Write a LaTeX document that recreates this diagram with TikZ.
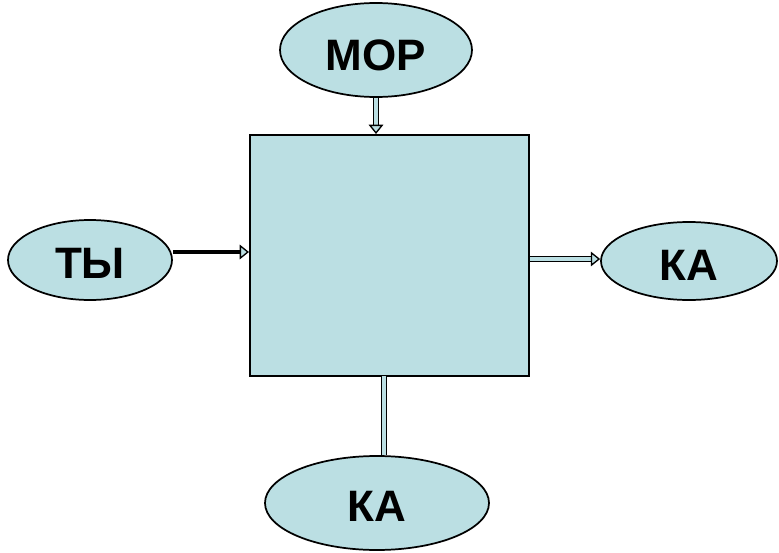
\documentclass[tikz,border=0pt]{standalone}
\usepackage{fontspec}
\setmainfont{Liberation Sans}
\usetikzlibrary{arrows.meta,shapes.geometric}
\definecolor{boxc}{HTML}{BBDFE3}
\tikzset{
  blob/.style={ellipse, draw=black, line width=1.3pt, fill=boxc, inner sep=0pt},
  lbl/.style={font=\bfseries\fontsize{33}{35}\selectfont, inner sep=0pt},
  dbl/.style={draw=black, line width=1pt, double=boxc, double distance=3pt},
  tip/.style={-{Triangle[open, length=7pt, width=11pt, fill=boxc, line width=1pt]}},
}
\begin{document}
\begin{tikzpicture}[x=0.75pt,y=-0.75pt]
\useasboundingbox (0,0) rectangle (779,553);
\node[blob, minimum width=192*0.75pt, minimum height=94*0.75pt] (mor) at (376,50) {};
\node[lbl] (morl) at (376,55) {МОР};
\node[draw=black, line width=1.5pt, fill=boxc, minimum width=279*0.75pt, minimum height=241*0.75pt, inner sep=0pt] (box) at (389.5,255.5) {};
\node[blob, minimum width=164*0.75pt, minimum height=80*0.75pt] (ty) at (90,260) {};
\node[lbl] (tyl) at (90,263) {ТЫ};
\node[blob, minimum width=176*0.75pt, minimum height=78*0.75pt] (ka1) at (689,261) {};
\node[lbl] (ka1l) at (689,265) {КА};
\node[blob, minimum width=224*0.75pt, minimum height=94*0.75pt] (ka2) at (377,503) {};
\node[lbl] (ka2l) at (377,506) {КА};
\draw[dbl, tip] (mor.south) -- (mor.south |- box.north);
\draw[line width=2.4pt, -{Triangle[open, length=7pt, width=11pt, fill=boxc, line width=1pt]}] (ty.east |- 0,252) -- (box.west |- 0,252);
\draw[dbl, tip] (box.east |- 0,259) -- (ka1.west |- 0,259);
\draw[dbl] (384,376) -- (ka2.north -| 384,0);
\end{tikzpicture}
\end{document}
